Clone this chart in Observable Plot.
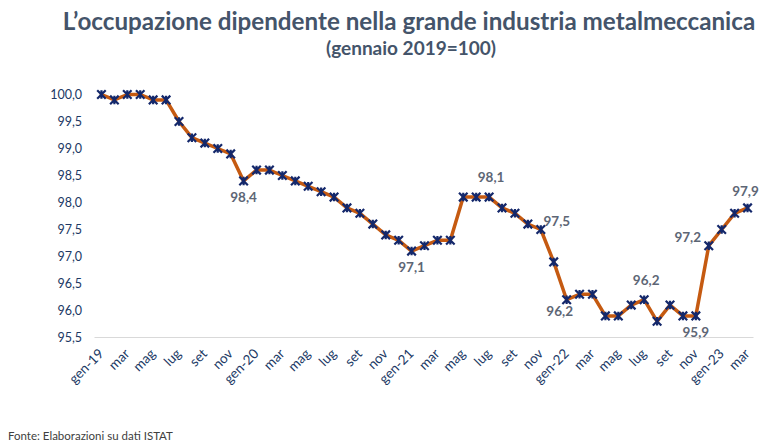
<!DOCTYPE html>
<html>
<head>
<meta charset="utf-8">
<script src="https://cdn.jsdelivr.net/npm/d3@7"></script>
<script src="https://cdn.jsdelivr.net/npm/@observablehq/plot@0.6"></script>
<style>
  html, body { margin: 0; padding: 0; background: #fff; }
  #wrap { position: relative; width: 760px; height: 445px; overflow: hidden; }
  #title { position: absolute; left: 0; width: 818px; top: 6px; text-align: center; font-family: Lato, sans-serif; font-weight: 700; font-size: 24.2px; color: #44546A; white-space: nowrap; }
  #subtitle { position: absolute; left: 0; width: 822px; top: 36px; text-align: center; font-family: Lato, sans-serif; font-weight: 700; font-size: 19px; color: #44546A; white-space: nowrap; }
  #caption { position: absolute; left: 8px; top: 429px; font-family: Lato, sans-serif; font-size: 11.5px; color: #404040; white-space: nowrap; }
  #chart { position: absolute; left: 0; top: 0; }
</style>
</head>
<body>
<div id="wrap">
  <div id="chart"></div>
  <div id="title">L’occupazione dipendente nella grande industria metalmeccanica</div>
  <div id="subtitle">(gennaio 2019=100)</div>
  <div id="caption">Fonte: Elaborazioni su dati ISTAT</div>
</div>
<script>
// Month labels (gen-19 … mar-23)
const monthNames = ["gen", "feb", "mar", "apr", "mag", "giu", "lug", "ago", "set", "ott", "nov", "dic"];
const years = ["19", "20", "21", "22", "23"];
const months = [];
for (const y of years) for (const m of monthNames) months.push(m + "-" + y);
months.length = 51;

// Index values (gennaio 2019 = 100)
const values = [
  100.0, 99.9, 100.0, 100.0, 99.9, 99.9, 99.5, 99.2, 99.1, 99.0, 98.9, 98.4,
  98.6, 98.6, 98.5, 98.4, 98.3, 98.2, 98.1, 97.9, 97.8, 97.6, 97.4, 97.3,
  97.1, 97.2, 97.3, 97.3, 98.1, 98.1, 98.1, 97.9, 97.8, 97.6, 97.5, 96.9,
  96.2, 96.3, 96.3, 95.9, 95.9, 96.1, 96.2, 95.8, 96.1, 95.9, 95.9, 97.2,
  97.5, 97.8, 97.9
];

// Axis tick labels (every other month)
const xTickLabels = months.map((m, i) => (i % 12 === 0 ? m : m.split("-")[0]));
const yTicks = [95.5, 96.0, 96.5, 97.0, 97.5, 98.0, 98.5, 99.0, 99.5, 100.0];

// Data labels shown on the chart: [month index, position]
const labelIdx = [11, 24, 30, 34, 36, 42, 46, 47, 50];
const labelPos = ["below", "below", "above", "right", "belowleft", "above", "below", "left", "aboveend"];

const data = values.map((v, i) => ({i, month: months[i], v}));
const fmt = v => d3.format(".1f")(v).replace(".", ",");

const labels = labelIdx.map((i, k) => ({i, v: values[i], pos: labelPos[k], text: fmt(values[i])}));
const offs = {
  below: {dx: 0, dy: 17},
  above: {dx: 2, dy: -19},
  aboveend: {dx: -2, dy: -16},
  right: {dx: 16, dy: -8},
  belowleft: {dx: -7, dy: 12},
  left: {dx: -21, dy: -8}
};

const star = {
  draw(ctx, size) {
    const r = Math.sqrt(size) / 2;
    ctx.moveTo(-r, -r); ctx.lineTo(r, r);
    ctx.moveTo(r, -r); ctx.lineTo(-r, r);
    ctx.moveTo(0, -r); ctx.lineTo(0, r);
  }
};

const labelMarks = Object.keys(offs).map(p => Plot.text(labels.filter(d => d.pos === p), {
  x: "i", y: "v", text: "text", dx: offs[p].dx, dy: offs[p].dy,
  fill: "#5d6675", fontWeight: 700, fontSize: 13.5, fontFamily: "Lato, sans-serif"
}));

const chart = Plot.plot({
  width: 760,
  height: 445,
  marginLeft: 94.5,
  marginRight: 6.5,
  marginTop: 94,
  marginBottom: 108,
  style: {fontFamily: "Lato, sans-serif", background: "transparent", overflow: "visible"},
  x: {domain: [-0.5, 50.5], axis: null},
  y: {domain: [95.5, 100], axis: null},
  marks: [
    Plot.ruleY([95.5], {stroke: "#d9d9d9", strokeWidth: 1.2}),
    Plot.axisY(yTicks, {tickSize: 0, tickPadding: 13, tickFormat: fmt, fill: "#203864", fontSize: 12.5, anchor: "left", label: null}),
    Plot.axisX(d3.range(0, 51, 2), {tickSize: 0, tickPadding: 14, tickRotate: -45, tickFormat: i => xTickLabels[i], fill: "#203864", fontSize: 13.5, anchor: "bottom", label: null}),
    Plot.line(data, {x: "i", y: "v", stroke: "#C55A11", strokeWidth: 3.5}),
    Plot.dot(data, {x: "i", y: "v", symbol: star, r: 4.8, stroke: "#14286b", strokeWidth: 2.2, fill: "none"}),
    ...labelMarks
  ]
});
document.getElementById("chart").appendChild(chart);
</script>
</body>
</html>
